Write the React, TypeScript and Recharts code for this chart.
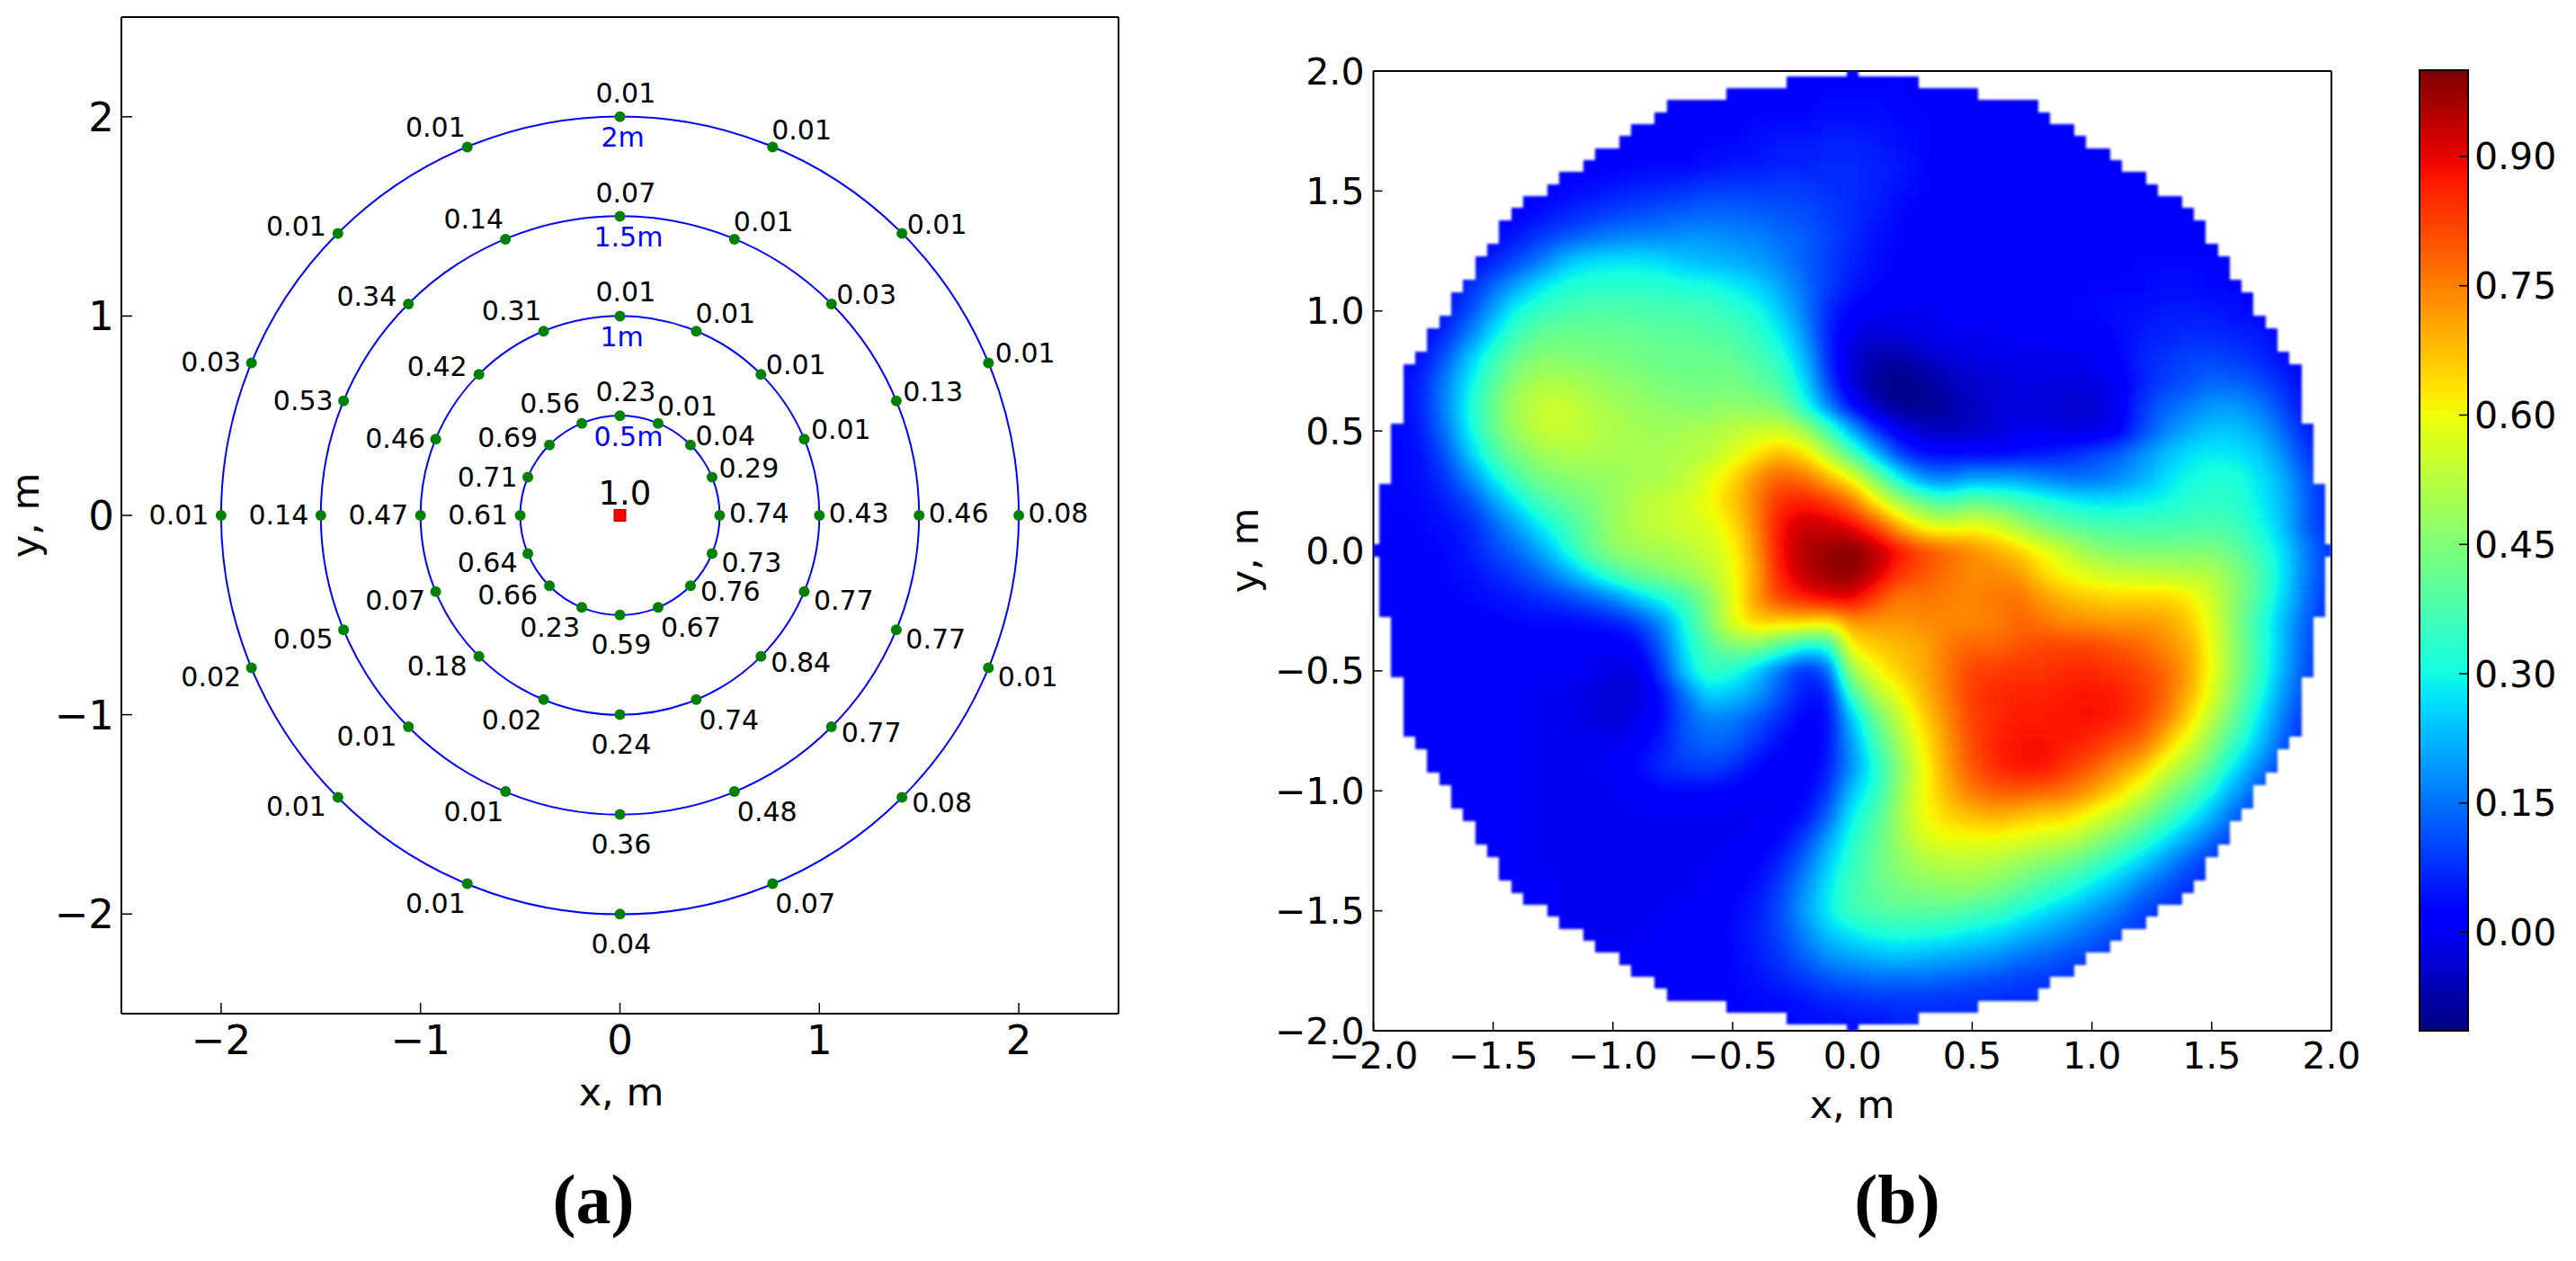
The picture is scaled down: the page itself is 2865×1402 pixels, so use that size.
import React from 'react';
import { ScatterChart, Scatter, XAxis, YAxis, ReferenceDot, ReferenceArea } from 'recharts';

// ---------- panel (a): measured values, clockwise from the top of each ring ----------
const ring05Values = [0.23, 0.01, 0.04, 0.29, 0.74, 0.73, 0.76, 0.67, 0.59, 0.23, 0.66, 0.64, 0.61, 0.71, 0.69, 0.56];
const ring10Values = [0.01, 0.01, 0.01, 0.01, 0.43, 0.77, 0.84, 0.74, 0.24, 0.02, 0.18, 0.07, 0.47, 0.46, 0.42, 0.31];
const ring15Values = [0.07, 0.01, 0.03, 0.13, 0.46, 0.77, 0.77, 0.48, 0.36, 0.01, 0.01, 0.05, 0.14, 0.53, 0.34, 0.14];
const ring20Values = [0.01, 0.01, 0.01, 0.01, 0.08, 0.01, 0.08, 0.07, 0.04, 0.01, 0.01, 0.02, 0.01, 0.03, 0.01, 0.01];
const ringRadii = [0.5, 1, 1.5, 2];
const ringNames = ['0.5m', '1m', '1.5m', '2m'];
const axisTicksA = [-2, -1, 0, 1, 2];

// ---------- panel (b): values, in hundredths, rows from y=2 down, 0.1 m apart, centred on x=0 ----------
const heatRows: number[][] = [
  [2,2,2],
  [2,2,2,2,2,2,3,3,3,3,2,2,2,2,2],
  [2,2,2,2,2,2,3,3,3,4,4,4,3,3,2,2,2,2,2,2,2],
  [1,2,2,2,2,2,3,3,4,5,5,6,6,5,4,3,2,2,1,1,1,1,1,1,1],
  [2,2,2,2,3,3,3,4,5,5,6,6,7,7,6,5,3,2,1,1,1,1,1,1,1,1,1],
  [2,2,3,4,5,6,7,8,9,9,9,9,9,8,7,6,4,3,2,1,1,1,1,1,1,1,1,1,1],
  [2,2,4,6,8,10,11,12,13,14,14,13,12,11,9,7,5,3,2,1,1,1,1,1,1,1,1,1,1,1,1],
  [2,3,5,9,12,15,17,18,18,19,19,18,17,15,13,10,7,4,3,2,1,1,1,1,1,1,1,2,2,2,2,2,2],
  [2,3,6,11,16,24,27,28,28,27,24,23,22,20,17,13,9,6,4,2,2,1,1,1,1,1,2,2,2,3,3,3,3,3,3],
  [2,3,7,14,21,28,32,33,33,33,33,32,31,29,26,21,15,9,5,3,2,1,1,1,1,1,2,2,3,3,3,4,4,3,3,2,2],
  [2,4,10,20,30,35,37,38,38,38,37,37,36,34,31,25,16,7,2,0,0,0,1,1,1,2,2,3,3,4,4,5,5,5,4,3,2],
  [2,3,7,16,27,36,41,42,42,42,41,40,40,39,38,34,29,19,6,-1,-3,-2,-1,0,0,0,1,1,2,2,3,5,6,7,7,6,5,3,2],
  [3,4,12,24,35,42,46,46,45,44,43,42,42,42,41,38,33,23,7,-3,-7,-8,-5,-3,-2,-1,-1,-1,-1,0,2,6,8,10,10,9,7,4,2],
  [3,3,6,16,28,39,47,51,51,49,47,46,44,43,43,43,41,37,27,10,-3,-9,-11,-9,-6,-4,-3,-2,-2,-2,-2,0,5,9,11,14,13,11,7,3,2],
  [3,3,6,17,30,42,50,55,55,52,50,48,47,46,46,47,46,44,32,17,3,-6,-10,-10,-8,-5,-3,-2,-3,-4,-4,-1,8,13,16,19,19,16,10,4,2],
  [3,3,5,15,29,41,49,54,55,53,51,50,49,50,51,53,55,56,50,37,22,8,0,-4,-6,-5,-3,-1,-1,-2,-2,0,9,16,21,24,24,21,14,6,3],
  [3,3,4,11,24,36,44,49,51,51,50,50,50,51,53,57,63,68,64,52,38,23,9,4,3,3,3,4,5,7,10,13,18,23,27,29,28,25,18,9,4],
  [2,3,4,8,17,28,37,44,46,47,48,50,50,53,58,64,73,79,77,69,60,44,29,18,16,20,20,20,17,15,15,17,21,26,30,32,32,28,22,12,6],
  [2,3,3,5,10,19,28,36,41,44,48,52,54,56,60,66,75,85,87,84,77,62,50,42,37,42,40,36,33,30,28,28,29,30,33,34,33,29,23,13,6],
  [1,2,3,4,6,12,20,28,35,42,48,52,54,55,57,63,74,88,93,93,90,82,69,60,57,60,57,50,44,40,38,37,37,37,37,38,36,31,24,13,6],
  [1,1,2,3,5,10,14,21,30,40,47,49,50,52,55,60,72,88,95,98,100,95,88,82,78,74,70,65,60,54,47,45,44,44,44,45,41,35,27,16,8],
  [1,1,2,3,4,6,9,14,20,28,36,42,45,48,52,59,70,87,94,98,99,92,84,80,76,74,74,72,64,60,57,55,54,54,53,52,46,38,28,16,8],
  [1,1,2,2,3,4,5,7,9,12,17,24,30,36,45,58,72,82,87,90,90,82,75,76,75,74,76,77,72,68,66,65,65,65,63,56,47,37,26,15,7],
  [1,1,2,2,2,2,3,3,3,4,5,9,17,30,44,58,66,65,65,62,72,72,72,74,74,74,75,78,76,74,73,72,72,71,67,58,46,34,23,13,6],
  [1,1,2,2,2,2,2,2,1,1,1,2,12,28,38,45,45,38,30,30,62,66,68,70,76,78,78,80,82,82,82,80,78,74,70,60,47,35,23,12,5],
  [1,1,2,2,2,2,2,1,1,0,-2,-2,8,25,35,32,25,15,6,12,50,60,66,70,76,82,83,84,84,85,85,84,82,78,72,60,47,35,22,11,5],
  [2,2,2,2,1,1,1,0,0,-2,-4,-3,3,14,26,24,20,12,5,4,36,52,60,68,76,83,85,86,86,87,88,87,84,79,70,58,45,32,19,10,4],
  [2,2,2,2,1,1,1,0,0,-2,-3,-1,3,12,17,16,12,7,2,3,24,42,54,65,74,82,85,87,87,88,88,87,83,76,66,53,41,28,16,8,3],
  [2,2,2,1,1,1,0,0,0,-1,1,5,11,14,13,8,4,1,4,20,36,50,62,72,81,86,88,88,87,85,81,78,68,58,47,35,24,13,6],
  [2,2,2,1,1,1,0,0,0,1,4,7,9,10,8,3,1,1,5,18,32,46,60,71,80,85,88,88,84,80,74,68,58,50,40,28,18,9,4],
  [2,2,1,1,1,0,0,0,0,1,3,3,3,2,1,1,2,8,24,33,48,60,69,76,80,80,79,77,72,66,58,49,41,31,21,12,6],
  [2,1,1,1,1,0,0,0,0,0,0,0,0,0,0,1,4,13,29,37,50,60,65,68,70,68,66,65,60,54,47,39,31,23,14,8,4],
  [1,1,1,1,0,0,0,0,0,0,0,0,0,1,3,9,20,32,40,49,57,60,60,60,58,56,54,49,43,36,29,22,15,9,5],
  [1,1,1,0,0,0,0,0,0,0,0,1,2,6,14,25,34,41,47,51,53,53,52,49,46,43,38,32,26,19,13,8,5],
  [1,1,1,0,0,0,0,0,0,1,2,4,9,18,28,36,41,44,46,47,47,45,41,37,33,28,23,17,12,8,6],
  [1,1,0,0,0,0,0,1,1,3,5,11,20,29,36,39,40,40,40,38,36,32,28,24,20,16,11,8,6],
  [1,1,0,0,0,1,1,2,3,6,10,17,24,28,31,32,31,30,28,26,23,20,17,14,11,8,6],
  [1,1,1,1,1,1,2,3,5,8,13,18,20,22,23,22,21,19,18,15,13,11,9,7,6],
  [1,1,1,1,2,3,4,6,8,11,12,13,13,13,12,11,10,9,8,7,6],
  [1,1,2,3,3,4,5,6,7,7,7,7,7,7,6],
  [4,4,4],
];
const axisTicksB = [-2, -1.5, -1, -0.5, 0, 0.5, 1, 1.5, 2];
const colorbarTicks = [0, 0.15, 0.3, 0.45, 0.6, 0.75, 0.9];
const COLOR_MIN = -0.114;
const COLOR_MAX = 1.0;

// ---------- jet colormap ----------
const jetR = [[0, 0], [0.35, 0], [0.66, 1], [0.89, 1], [1, 0.5]];
const jetG = [[0, 0], [0.125, 0], [0.375, 1], [0.64, 1], [0.91, 0], [1, 0]];
const jetB = [[0, 0.5], [0.11, 1], [0.34, 1], [0.65, 0], [1, 0]];
const knot = (k: number[][], t: number) => {
  for (let i = 1; i < k.length; i++) {
    if (t <= k[i][0]) {
      const f = (t - k[i - 1][0]) / (k[i][0] - k[i - 1][0]);
      return k[i - 1][1] + f * (k[i][1] - k[i - 1][1]);
    }
  }
  return k[k.length - 1][1];
};
const steps = Array.from({ length: 256 }, (_, i) => i / 255);
const table = (k: number[][]) => steps.map((t) => knot(k, t).toFixed(4)).join(' ');
const gradStops = Array.from({ length: 65 }, (_, i) => i / 64);
const jetCss = (t: number) =>
  `rgb(${Math.round(knot(jetR, t) * 255)},${Math.round(knot(jetG, t) * 255)},${Math.round(knot(jetB, t) * 255)})`;

// ---------- tables for the charts ----------
const ringSets = [ring05Values, ring10Values, ring15Values, ring20Values];
const sensorPoints = ringSets.flatMap((vals, r) =>
  vals.map((value, i) => {
    const a = ((90 - i * 22.5) * Math.PI) / 180;
    return { x: ringRadii[r] * Math.cos(a), y: ringRadii[r] * Math.sin(a), value, slot: i, ring: r };
  })
);
const originPoint = [{ x: 0, y: 0, value: '1.0' }];
const ringNamePoints = ringRadii.map((r, i) => ({ x: 0, y: r, name: ringNames[i], idx: i }));
const heatCells = heatRows.flatMap((row, j) => {
  const y = 2 - j * 0.1;
  const half = (row.length - 1) / 2;
  return row.map((v, i) => ({ x: (i - half) * 0.1, y, v: v / 100 }));
});
const hull = sensorPoints.filter((p) => p.ring === 3).map((p) => [p.x, p.y]);

// ---------- layout / style ----------
// per angular slot: [dx, dy, anchor] of the value label relative to its dot, in pixels
const labelOffsets: [number, number, string][] = [
  [-27, -16, 'start'], [-1, -9, 'start'], [5.5, 0, 'start'], [7.5, 0, 'start'],
  [10.5, 8, 'start'], [10.5, 20.5, 'start'], [11, 17, 'start'], [3, 33, 'start'],
  [-32, 43.5, 'start'], [-2, 33, 'end'], [-13, 21, 'end'], [-11.5, 20.5, 'end'],
  [-13.5, 10, 'end'], [-11.5, 10, 'end'], [-13, 2, 'end'], [-2, -12, 'end'],
];
const ringNameDx = [-29, -22, -29, -21];
const FONT = '"DejaVu Sans", sans-serif';
const PX_A = 221.8;
const BOX_H = 1300;

const B_LEFT = 1400;
const bPxX = (x: number) => 2060.25 - B_LEFT + x * 266.4;
const bPxY = (y: number) => 612 - y * 266.7;
const CELL = 28;

const insideHull = (x: number, y: number) => {
  for (let i = 0; i < hull.length; i++) {
    const a = hull[i];
    const b = hull[(i + 1) % hull.length];
    // ring points run clockwise
    if ((b[0] - a[0]) * (y - a[1]) - (b[1] - a[1]) * (x - a[0]) > 1e-9) return false;
  }
  return true;
};
const maskRows = Array.from({ length: 81 }, (_, j) => {
  const y = 2 - j * 0.05;
  let lo = 99;
  let hi = -99;
  for (let i = -40; i <= 40; i++) {
    const x = i * 0.05;
    if (insideHull(x, y)) {
      lo = Math.min(lo, x);
      hi = Math.max(hi, x);
    }
  }
  return { y, lo, hi };
}).filter((r) => r.hi >= r.lo);

const fmtInt = (v: number) => String(v).replace('-', '\u2212');
const fmt1 = (v: number) => v.toFixed(1).replace('-', '\u2212');
const fmt2 = (v: number) => v.toFixed(2);
const frameLine = { stroke: '#000', strokeWidth: 2 };
const tickLineStyle = { stroke: '#000', strokeWidth: 1.5 };

const SensorShape = (p: any) => {
  const d = p.payload ?? p;
  const [dx, dy, anchor] = labelOffsets[d.slot];
  return (
    <g>
      <circle cx={p.cx} cy={p.cy} r={6} fill="#008000" />
      <text x={p.cx + dx} y={p.cy + dy} textAnchor={anchor} fontSize={30} fill="#000">
        {d.value.toFixed(2)}
      </text>
    </g>
  );
};
const OriginShape = (p: any) => (
  <g>
    <rect x={p.cx - 6.5} y={p.cy - 6.5} width={13} height={13} fill="#ff0000" stroke="#a00" strokeWidth={1} />
    <text x={p.cx - 24} y={p.cy - 12} fontSize={37} fill="#000">
      {(p.payload ?? p).value}
    </text>
  </g>
);
const RingNameShape = (p: any) => {
  const d = p.payload ?? p;
  return (
    <text x={p.cx + ringNameDx[d.idx]} y={p.cy + 33.5} fontSize={30} fill="#0000ff">
      {d.name}
    </text>
  );
};
const HeatShape = (p: any) => {
  const d = p.payload ?? p;
  const t = Math.max(0, Math.min(1, (d.v - COLOR_MIN) / (COLOR_MAX - COLOR_MIN)));
  const g = Math.round(t * 255);
  return (
    <rect x={p.cx - CELL / 2} y={p.cy - CELL / 2} width={CELL} height={CELL} fill={`rgb(${g},${g},${g})`} shapeRendering="crispEdges" />
  );
};

export default function App() {
  return (
    <div style={{ position: 'absolute', left: 0, top: 0, width: 2865, height: 1402, background: '#fff', fontFamily: FONT, overflow: 'hidden' }}>
      <style>{`.heat .recharts-scatter{filter:url(#jetMap);mask:url(#hullMask);}`}</style>
      <svg width={0} height={0} style={{ position: 'absolute' }}>
        <defs>
          <filter id="jetMap" x="-5%" y="-5%" width="110%" height="110%" colorInterpolationFilters="sRGB">
            <feGaussianBlur stdDeviation={11} />
            <feComponentTransfer>
              <feFuncR type="table" tableValues={table(jetR)} />
              <feFuncG type="table" tableValues={table(jetG)} />
              <feFuncB type="table" tableValues={table(jetB)} />
              <feFuncA type="linear" slope={40} />
            </feComponentTransfer>
          </filter>
          <filter id="soft" x="-5%" y="-5%" width="110%" height="110%" colorInterpolationFilters="sRGB">
            <feGaussianBlur stdDeviation={1.6} />
          </filter>
          <mask id="hullMask" maskUnits="userSpaceOnUse" x={0} y={0} width={1300} height={BOX_H} maskContentUnits="userSpaceOnUse">
            <g filter="url(#soft)" fill="#fff">
              {maskRows.map((r) => {
                const left = bPxX(Math.max(-2, r.lo - 0.025));
                const right = bPxX(Math.min(2, r.hi + 0.025));
                const top = bPxY(Math.min(2, r.y + 0.025));
                const bottom = bPxY(Math.max(-2, r.y - 0.025));
                return <rect key={r.y} x={left} y={Math.floor(top)} width={right - left} height={Math.ceil(bottom) - Math.floor(top)} shapeRendering="crispEdges" />;
              })}
            </g>
          </mask>
          <linearGradient id="jetGrad" x1={0} y1={1} x2={0} y2={0}>
            {gradStops.map((t) => (
              <stop key={t} offset={t} stopColor={jetCss(t)} />
            ))}
          </linearGradient>
        </defs>
      </svg>

      {/* panel (a) */}
      <div style={{ position: 'absolute', left: 0, top: 0 }}>
        <ScatterChart width={1400} height={BOX_H} margin={{ top: 18, left: 0, right: 155, bottom: 73 }}>
          <XAxis type="number" dataKey="x" domain={[-2.5, 2.5]} ticks={axisTicksA} interval={0} height={100} tickFormatter={fmtInt}
            axisLine={frameLine} tickLine={tickLineStyle} tickSize={-12} tickMargin={25} tick={{ fill: '#000', fontSize: 45 }} allowDataOverflow />
          <XAxis xAxisId="top" orientation="top" type="number" domain={[-2.5, 2.5]} ticks={axisTicksA} interval={0} height={1}
            axisLine={frameLine} tickLine={tickLineStyle} tickSize={-12} tick={false} allowDataOverflow />
          <YAxis type="number" dataKey="y" domain={[-2.5, 2.5]} ticks={axisTicksA} interval={0} width={135} tickFormatter={fmtInt}
            axisLine={frameLine} tickLine={tickLineStyle} tickSize={-12} tickMargin={20} tick={{ fill: '#000', fontSize: 45 }} allowDataOverflow />
          <YAxis yAxisId="right" orientation="right" type="number" domain={[-2.5, 2.5]} ticks={axisTicksA} interval={0} width={1}
            axisLine={frameLine} tickLine={tickLineStyle} tickSize={-12} tick={false} allowDataOverflow />
          {ringRadii.map((r) => (
            <ReferenceDot key={r} x={0} y={0} r={r * PX_A} fill="none" stroke="#0000ff" strokeWidth={2} />
          ))}
          <Scatter data={sensorPoints} shape={SensorShape} isAnimationActive={false} />
          <Scatter data={ringNamePoints} shape={RingNameShape} isAnimationActive={false} />
          <Scatter data={originPoint} shape={OriginShape} isAnimationActive={false} />
        </ScatterChart>
      </div>

      {/* panel (b) */}
      <div className="heat" style={{ position: 'absolute', left: B_LEFT, top: 0 }}>
        <ScatterChart width={1300} height={BOX_H} margin={{ top: 78, left: 0, right: 106, bottom: 54 }}>
          <XAxis type="number" dataKey="x" domain={[-2, 2]} ticks={axisTicksB} interval={0} height={100} tickFormatter={fmt1}
            axisLine={frameLine} tickLine={tickLineStyle} tickSize={-10} tickMargin={23} tick={{ fill: '#000', fontSize: 41 }} allowDataOverflow />
          <XAxis xAxisId="top" orientation="top" type="number" domain={[-2, 2]} ticks={axisTicksB} interval={0} height={1}
            axisLine={frameLine} tickLine={tickLineStyle} tickSize={-10} tick={false} allowDataOverflow />
          <YAxis type="number" dataKey="y" domain={[-2, 2]} ticks={axisTicksB} interval={0} width={127.5} tickFormatter={fmt1}
            axisLine={frameLine} tickLine={tickLineStyle} tickSize={-10} tickMargin={20} tick={{ fill: '#000', fontSize: 41 }} allowDataOverflow />
          <YAxis yAxisId="right" orientation="right" type="number" domain={[-2, 2]} ticks={axisTicksB} interval={0} width={1}
            axisLine={frameLine} tickLine={tickLineStyle} tickSize={-10} tick={false} allowDataOverflow />
          <Scatter data={heatCells} shape={HeatShape} isAnimationActive={false} />
        </ScatterChart>
      </div>

      {/* colour bar */}
      <div style={{ position: 'absolute', left: 2640, top: 0 }}>
        <ScatterChart width={225} height={BOX_H} margin={{ top: 78, left: 51, right: 0, bottom: 54 }}>
          <XAxis type="number" dataKey="x" domain={[0, 1]} height={100} axisLine={false} tickLine={false} tick={false} />
          <YAxis type="number" dataKey="y" domain={[COLOR_MIN, COLOR_MAX]} hide width={0} allowDataOverflow />
          <YAxis yAxisId="bar" orientation="right" type="number" domain={[COLOR_MIN, COLOR_MAX]} ticks={colorbarTicks} interval={0} width={120} tickFormatter={fmt2}
            axisLine={frameLine} tickLine={tickLineStyle} tickSize={-10} tickMargin={17} tick={{ fill: '#000', fontSize: 41 }} allowDataOverflow />
          <ReferenceArea x1={0} x2={1} y1={COLOR_MIN} y2={COLOR_MAX} fill="url(#jetGrad)" fillOpacity={1} stroke="#000" strokeWidth={2} ifOverflow="extendDomain" />
          <Scatter data={[]} isAnimationActive={false} />
        </ScatterChart>
      </div>

      {/* axis titles and captions */}
      <svg width={2865} height={1402} style={{ position: 'absolute', left: 0, top: 0, pointerEvents: 'none' }}>
        <g fontFamily={FONT} fontSize={43} fill="#000" textAnchor="middle">
          <text x={691} y={1229}>x, m</text>
          <text transform="translate(43,573) rotate(-90)">y, m</text>
          <text x={2060} y={1243}>x, m</text>
          <text transform="translate(1399,612) rotate(-90)">y, m</text>
        </g>
        <g fontFamily='"Liberation Serif", serif' fontWeight="bold" fontSize={78} fill="#000" textAnchor="middle">
          <text x={660} y={1360}>(a)</text>
          <text x={2110} y={1360}>(b)</text>
        </g>
      </svg>
    </div>
  );
}
